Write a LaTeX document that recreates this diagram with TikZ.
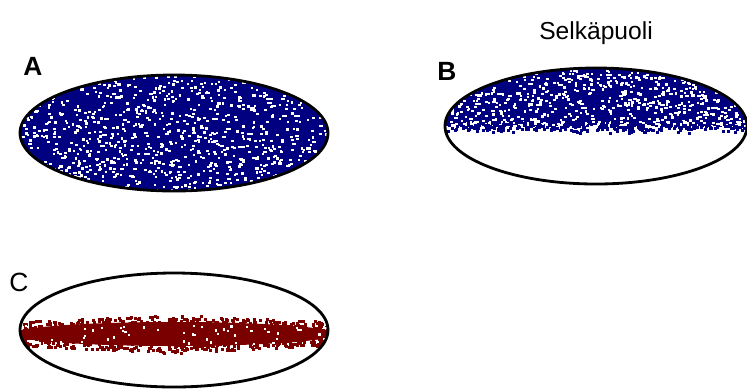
\documentclass[tikz,border=0pt]{standalone}
\usepackage{fontspec}
\setmainfont{Liberation Sans}
\usepackage{tikz}
\usetikzlibrary{calc}
\definecolor{dotblue}{RGB}{0,0,128}
\definecolor{dotred}{RGB}{122,0,0}
\tikzset{rim/.style={draw=black, line width=1.6pt},
	tag/.style={inner sep=0pt, anchor=base west, font=\fontsize{15}{18}\selectfont},
	speck/.style={fill=white}}
\begin{document}
\begin{tikzpicture}[x=0.02cm, y=-0.02cm]
					\useasboundingbox (0,0) rectangle (747,390);
					\pgfmathsetseed{4711}
					% A: whole section stained
					\begin{scope}
						\clip (174,133) ellipse [x radius=154, y radius=58];
						\fill[dotblue] (15,70) rectangle (335,196);
						\foreach \i in {1,...,1000} {
							\pgfmathsetmacro\ss{2+1.4*rnd}
							\fill[speck] ({20+308*rnd},{75+117*rnd}) rectangle +(\ss,2.2);
						}
					\end{scope}
					\draw[rim] (174,133) ellipse [x radius=154, y radius=58];
					% B: upper half only
					\begin{scope}
						\clip (596,126) ellipse [x radius=151, y radius=58];
						\fill[dotblue] (440,60) rectangle (750,120);
						\foreach \i in {1,...,1100} {
							\pgfmathsetmacro\yy{117+16*rnd*rnd}
							\fill[dotblue] ({445+302*rnd},\yy) rectangle +(3,3);
						}
						\foreach \i in {1,...,650} {
							\pgfmathsetmacro\ss{2+1.4*rnd}
							\fill[speck] ({445+302*rnd},{68+56*rnd}) rectangle +(\ss,2.2);
						}
					\end{scope}
					\draw[rim] (596,126) ellipse [x radius=151, y radius=58];
					% C: narrow middle band
					\begin{scope}
						\clip (174,330) ellipse [x radius=154, y radius=57];
						\fill[dotred] (174,334) ellipse [x radius=162, y radius=12];
						\foreach \i in {1,...,900} {
							\pgfmathsetmacro\xx{22+304*rnd}
							\pgfmathsetmacro\yy{333+(2*rnd-1)*(12+7*(1-abs(\xx-174)/160))}
							\fill[dotred] (\xx,\yy) rectangle +(3,3);
						}
						\foreach \i in {1,...,50} {
							\fill[speck] ({25+300*rnd},{325+18*rnd}) rectangle +(2.2,2.2);
						}
					\end{scope}
					\draw[rim] (174,330) ellipse [x radius=154, y radius=57];
					\node[tag, font=\fontsize{15}{18}\selectfont\bfseries] (tagA) at (23,75) {A};
					\node[tag, font=\fontsize{15}{18}\selectfont\bfseries] (tagB) at (437,80) {B};
					\node[tag] (tagC) at (9,291) {C};
					\node[inner sep=0pt, anchor=base, font=\fontsize{14}{17}\selectfont] (side) at (596,39) {Selkäpuoli};
				\end{tikzpicture}
\end{document}
